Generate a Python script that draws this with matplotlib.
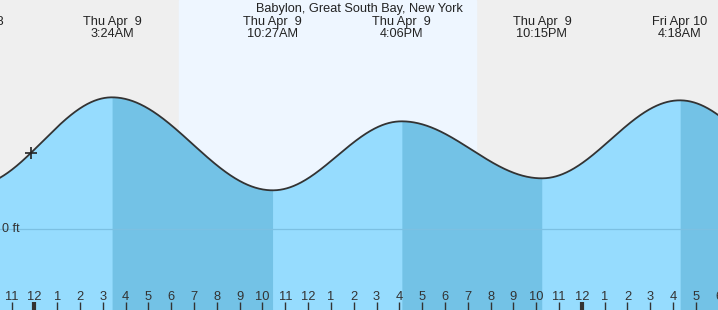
import numpy as np
import matplotlib
matplotlib.use("Agg")
import matplotlib.pyplot as plt
import matplotlib.transforms as mtransforms

plt.rcParams['font.family'] = ['Liberation Sans', 'DejaVu Sans']

# tide extremes: hours from Thu Apr 9 00:00, height in ft
tide_times = [-2.70, 3.40, 10.45, 16.10, 22.25, 28.30, 34.80]
tide_heights = [0.29, 0.88, 0.26, 0.72, 0.34, 0.86, 0.23]
tide_labels = ["Wed Apr  8\n9:18PM", "Thu Apr  9\n3:24AM", "Thu Apr  9\n10:27AM",
               "Thu Apr  9\n4:06PM", "Thu Apr  9\n10:15PM", "Fri Apr 10\n4:18AM"]
sunrise = 6.34
sunset = 19.36
now_time = -0.15
hour_ticks = list(range(-1, 31))
title = "Babylon, Great South Bay, New York"

x_min, x_max = -1.508, 29.97
y_min, y_max = -0.538, 1.529

bg_night = '#efefef'
bg_day = '#eef6ff'
fill_light = '#96dcfe'
fill_dark = '#73c2e6'


def tide_at(t):
    t = np.asarray(t, dtype=float)
    out = np.zeros_like(t)
    for i in range(len(tide_times) - 1):
        t0, t1 = tide_times[i], tide_times[i + 1]
        h0, h1 = tide_heights[i], tide_heights[i + 1]
        m = (t >= t0) & (t <= t1)
        f = (t[m] - t0) / (t1 - t0)
        out[m] = h0 + (h1 - h0) * (1 - np.cos(np.pi * f)) / 2
    return out


fig = plt.figure(figsize=(7.18, 3.10), dpi=100)
ax = fig.add_axes([0, 0, 1, 1])
ax.set_xlim(x_min, x_max)
ax.set_ylim(y_min, y_max)
ax.axis('off')

# background: night / day
ax.axvspan(x_min, x_max, color=bg_night, zorder=0)
ax.axvspan(sunrise, sunset, color=bg_day, zorder=0.5)

tt = np.linspace(x_min, x_max, 1500)
hh = tide_at(tt)
ax.fill_between(tt, y_min, hh, color=fill_light, lw=0, zorder=1)

# falling tide darker
for i in range(len(tide_times) - 1):
    if tide_heights[i] > tide_heights[i + 1]:
        seg = (tt >= tide_times[i]) & (tt <= tide_times[i + 1])
        if seg.any():
            ax.fill_between(tt[seg], y_min, hh[seg], color=fill_dark, lw=0, zorder=1.5)

ax.plot(tt, hh, color='#333333', lw=1.3, zorder=3)
ax.axhline(0, color='#7cc0e2', lw=0.9, zorder=2)

trans = mtransforms.blended_transform_factory(ax.transAxes, ax.transData)
ax.text(0.003, 0, "0 ft", transform=trans, ha='left', va='center',
        fontsize=9, color='#333333', zorder=4)

# current time marker
ax.plot([now_time], tide_at([now_time]), marker='+', ms=9, mew=1.2,
        color='#222222', zorder=4)

# bottom hour ticks
tick_tr = mtransforms.blended_transform_factory(ax.transData, ax.transAxes)
for h in hour_ticks:
    hr = h % 12
    lab = str(12 if hr == 0 else hr)
    lw = 3 if h % 24 == 0 else 1
    ax.plot([h, h], [0, 0.026], transform=tick_tr, color='#333333', lw=lw,
            solid_capstyle='butt', zorder=4, clip_on=False)
    ax.text(h, 0.042, lab, transform=tick_tr, ha='center', va='center',
            fontsize=9.3, color='#333333', zorder=4)

# top labels for tide extremes
for t, lab in zip(tide_times, tide_labels):
    ax.text(t, 0.909, lab, transform=tick_tr, ha='center', va='center',
            fontsize=9.2, color='#222222', linespacing=0.95, zorder=4)

ax.text(0.5, 0.972, title, transform=ax.transAxes, ha='center', va='center',
        fontsize=9.2, color='#222222', zorder=4)

fig.savefig("out.png", dpi=100)
